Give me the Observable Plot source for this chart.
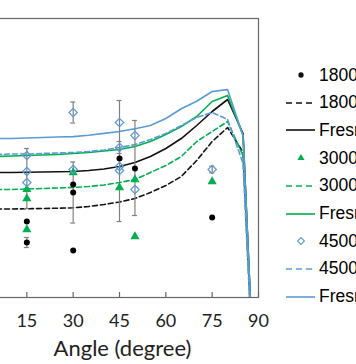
<!DOCTYPE html>
<html><head><meta charset="utf-8">
<script src="https://cdn.jsdelivr.net/npm/d3@7"></script>
<script src="https://cdn.jsdelivr.net/npm/@observablehq/plot@0.6"></script>
<style>
html,body{margin:0;padding:0;background:#fff;}
#wrap{position:relative;width:356px;height:364px;overflow:hidden;background:#fff;}
#chart{position:absolute;left:-20px;top:0;}
.lg{position:absolute;left:284px;height:20px;display:flex;align-items:center;white-space:nowrap;
 font-family:"Liberation Sans",Arial,sans-serif;font-size:17.5px;color:#000;}
.lg svg{display:block;margin-right:3px;flex:none;}
</style></head>
<body><div id="wrap"><div id="chart"></div></div>
<script>
// ---- data ----
const angles = [0,5,10,15,20,25,30,35,40,45,50,55,60,65,70,75,80,85,90];
const model1800   = [0.5903,0.5903,0.5903,0.5908,0.5914,0.5920,0.5929,0.5957,0.6000,0.6054,0.6129,0.6258,0.6409,0.6602,0.6946,0.7355,0.7656,0.7118,0];
const fresnel1800 = [0.6688,0.6688,0.6688,0.6692,0.6699,0.6705,0.6710,0.6731,0.6763,0.6817,0.6903,0.7032,0.7204,0.7419,0.7699,0.8000,0.8258,0.7527,0];
const model3000   = [0.6323,0.6323,0.6323,0.6333,0.6344,0.6355,0.6366,0.6387,0.6419,0.6473,0.6538,0.6688,0.6839,0.7032,0.7355,0.7570,0.7785,0.7054,0];
const fresnel3000 = [0.7032,0.7032,0.7043,0.7054,0.7065,0.7075,0.7097,0.7118,0.7151,0.7183,0.7247,0.7355,0.7505,0.7677,0.7892,0.8215,0.8344,0.7484,0];
const model4500   = [0.7075,0.7075,0.7086,0.7086,0.7097,0.7108,0.7118,0.7140,0.7172,0.7226,0.7290,0.7398,0.7527,0.7699,0.7871,0.7978,0.7828,0.6882,0];
const fresnel4500 = [0.742,0.742,0.742,0.743,0.744,0.745,0.746,0.749,0.753,0.757,0.763,0.770,0.785,0.806,0.822,0.843,0.847,0.748,0];

const meas1800Angle = [15,15,30,30,30,45,50,75];
const meas1800Value = [0.5634,0.5183,0.6430,0.6258,0.5011,0.6989,0.6774,0.5720];
const meas3000Angle = [15,15,15,30,45,50,50,75];
const meas3000Value = [0.6323,0.6129,0.5462,0.6688,0.6366,0.6538,0.5312,0.6495];
const meas4500Angle = [15,15,15,30,30,45,45,45,45,50,50,75];
const meas4500Value = [0.7054,0.6710,0.6473,0.7978,0.6753,0.7763,0.7226,0.6817,0.6731,0.7484,0.6323,0.6753];

const errAngle  = [15,15,30,30,45,45,50,75];
const errCenter = [0.6559,0.5183,0.7978,0.6258,0.6935,0.7226,0.6785,0.6753];
const errHalf   = [0.0645,0.0108,0.0226,0.0656,0.1301,0.0129,0.1022,0.007];

const xTicks = [15,30,45,60,75,90];
const yDomain = [0.4,1.0];
const xLabel = "Angle (degree)";

const legendLabels = ["1800 cm-1 measured","1800 cm-1 model","Fresnel 1800 cm-1",
                      "3000 cm-1 measured","3000 cm-1 model","Fresnel 3000 cm-1",
                      "4500 cm-1 measured","4500 cm-1 model","Fresnel 4500 cm-1"];

// ---- styles ----
const cBlack="#111", cGreen="#00B050", cBlue="#5B9BD5", cErr="#808080";
const dash="5,3";

const curve = (arr)=>angles.map((a,i)=>({angle:a,value:arr[i]}));
const pts = (A,V)=>A.map((a,i)=>({angle:a,value:V[i]}));
const errs = errAngle.map((a,i)=>({angle:a,lo:errCenter[i]-errHalf[i],hi:errCenter[i]+errHalf[i]}));
const capW = 0.8;

const lineSpecs = [
  [model1800,cBlack,dash],[fresnel1800,cBlack,null],
  [model3000,cGreen,dash],[fresnel3000,cGreen,null],
  [model4500,cBlue,dash],[fresnel4500,cBlue,null]
];

const marks = [];
for (const [arr,col,da] of lineSpecs) {
  marks.push(Plot.line(curve(arr),{x:"angle",y:"value",stroke:col,strokeWidth:1.6,
    strokeDasharray:da||undefined,clip:true}));
}
marks.push(Plot.ruleX(errs,{x:"angle",y1:"lo",y2:"hi",stroke:cErr,strokeWidth:1.2}));
marks.push(Plot.ruleY(errs,{y:"lo",x1:d=>d.angle-capW,x2:d=>d.angle+capW,stroke:cErr,strokeWidth:1.2}));
marks.push(Plot.ruleY(errs,{y:"hi",x1:d=>d.angle-capW,x2:d=>d.angle+capW,stroke:cErr,strokeWidth:1.2}));
marks.push(Plot.dot(pts(meas1800Angle,meas1800Value),{x:"angle",y:"value",r:3,fill:"#000",stroke:"none"}));
marks.push(Plot.dot(pts(meas3000Angle,meas3000Value),{x:"angle",y:"value",r:3.4,symbol:"triangle",fill:cGreen,stroke:"none"}));
marks.push(Plot.dot(pts(meas4500Angle,meas4500Value),{x:"angle",y:"value",r:3.8,symbol:"diamond2",fill:"none",stroke:cBlue,strokeWidth:1.2}));
marks.push(Plot.frame({stroke:"#666",strokeWidth:1.2}));
marks.push(Plot.tickX([0, ...xTicks],{x:d=>d,insetTop:274,stroke:"#666",strokeWidth:1.2}));
marks.push(Plot.axisX(xTicks,{tickSize:0,tickPadding:17,fontSize:18,fill:"#222",label:null}));
marks.push(Plot.text([xLabel],{text:d=>d,frameAnchor:"bottom",dy:58,dx:3,lineAnchor:"bottom",fontSize:22,fill:"#222"}));

const plot = Plot.plot({
  width:300, height:364,
  marginTop:18, marginBottom:67, marginLeft:0, marginRight:22,
  x:{domain:[0,90],label:null},
  y:{domain:yDomain,axis:null},
  style:{fontFamily:"Lato, 'Open Sans', sans-serif",background:"transparent",overflow:"visible"},
  marks
});
document.getElementById("chart").appendChild(plot);

// ---- legend ----
const wrap = document.getElementById("wrap");
const legendKinds = ["circle","dash","solid","triangle","dash","solid","diamond","dash","solid"];
const legendColors = [cBlack,cBlack,cBlack,cGreen,cGreen,cGreen,cBlue,cBlue,cBlue];
legendLabels.forEach((lab,i)=>{
  const cy = 75 + i*27.7;
  const row = document.createElement("div");
  row.className="lg"; row.style.top=(cy-10)+"px";
  const ns="http://www.w3.org/2000/svg";
  const s=document.createElementNS(ns,"svg"); s.setAttribute("width",32); s.setAttribute("height",20);
  const k=legendKinds[i], col=legendColors[i];
  let el;
  if(k==="dash"||k==="solid"){
    el=document.createElementNS(ns,"line");
    el.setAttribute("x1",2);el.setAttribute("x2",31);el.setAttribute("y1",10);el.setAttribute("y2",10);
    el.setAttribute("stroke",col);el.setAttribute("stroke-width",1.6);
    if(k==="dash") el.setAttribute("stroke-dasharray","6,4");
  } else {
    el=document.createElementNS(ns,"path");
    const sym = k==="circle"?d3.symbolCircle:k==="triangle"?d3.symbolTriangle:d3.symbolDiamond2;
    const size = k==="circle"?22:k==="triangle"?22:30;
    el.setAttribute("d",d3.symbol(sym,size)());
    el.setAttribute("transform","translate(17,10)");
    if(k==="diamond"){el.setAttribute("fill","none");el.setAttribute("stroke",col);el.setAttribute("stroke-width",1.1);}
    else el.setAttribute("fill",col);
  }
  s.appendChild(el); row.appendChild(s);
  const t=document.createElement("span"); t.textContent=lab; row.appendChild(t);
  wrap.appendChild(row);
});
</script>
</body></html>
